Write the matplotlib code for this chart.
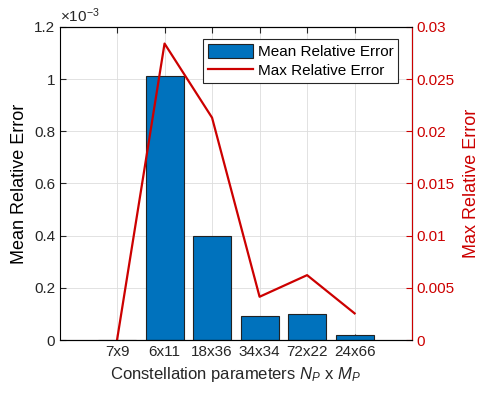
import matplotlib.pyplot as plt
from matplotlib.ticker import FuncFormatter, MultipleLocator
import numpy as np

plt.rcParams['font.family'] = ['Liberation Sans', 'DejaVu Sans']
plt.rcParams['mathtext.fontset'] = 'custom'
plt.rcParams['mathtext.rm'] = 'Liberation Sans'
plt.rcParams['mathtext.it'] = 'Liberation Sans:italic'

# data
categories = ['7x9', '6x11', '18x36', '34x34', '72x22', '24x66']
mean_err = [0.000001, 0.00101, 0.000400, 0.000091, 0.000101, 0.000018]
max_err = [0.0, 0.0284, 0.0213, 0.00415, 0.00622, 0.00256]

blue = '#0072BD'
red = '#CC0000'

fig = plt.figure(figsize=(4.82, 3.95), dpi=100)
ax = fig.add_axes([0.1245, 0.139, 0.7295, 0.793])
x = np.arange(1, len(categories) + 1)

ax.bar(x, mean_err, width=0.8, color=blue, edgecolor='#222222', linewidth=0.8,
       label='Mean Relative Error', zorder=2)
ax.set_xlim(-0.2, 7.2)
ax.set_ylim(0, 1.2e-3)
ax.set_xticks(x)
ax.set_xticklabels(categories)
ax.yaxis.set_major_locator(MultipleLocator(0.2e-3))
ax.yaxis.set_major_formatter(FuncFormatter(lambda v, p: '%g' % round(v * 1e3, 6)))
ax.text(0, 1.005, r'$\times10^{-3}$', transform=ax.transAxes, fontsize=11,
        ha='left', va='bottom', color='#262626')
ax.set_ylabel('Mean Relative Error', fontsize=13, labelpad=4)
ax.set_xlabel(r'Constellation parameters $N_P$ x $M_P$', fontsize=12, color='#262626')
ax.grid(True, color='#dddddd', linewidth=0.6, zorder=0)
ax.set_axisbelow(True)
ax.tick_params(direction='in', labelsize=11, colors='#262626', length=4)
ax.tick_params(axis='x', top=True)

ax2 = ax.twinx()
ln, = ax2.plot(x, max_err, color=red, linewidth=1.6, label='Max Relative Error')
ax2.set_ylim(0, 0.03)
ax2.yaxis.set_major_locator(MultipleLocator(0.005))
ax2.yaxis.set_major_formatter(FuncFormatter(lambda v, p: '%g' % round(v, 6)))
ax2.set_ylabel('Max Relative Error', fontsize=13, color=red, labelpad=6)
ax2.tick_params(direction='in', labelsize=11, colors=red, length=4)
ax2.spines['right'].set_color(red)
ax2.spines['left'].set_visible(False)

h1, l1 = ax.get_legend_handles_labels()
leg = ax2.legend(h1 + [ln], l1 + ['Max Relative Error'], loc='upper right',
                 bbox_to_anchor=(0.962, 0.96), fontsize=11, fancybox=False,
                 edgecolor='#262626', framealpha=1, handlelength=3.0,
                 handleheight=1.0, borderpad=0.3, labelspacing=0.25,
                 handletextpad=0.3, borderaxespad=0)
leg.get_frame().set_linewidth(0.8)

fig.savefig('out.png', dpi=100)
